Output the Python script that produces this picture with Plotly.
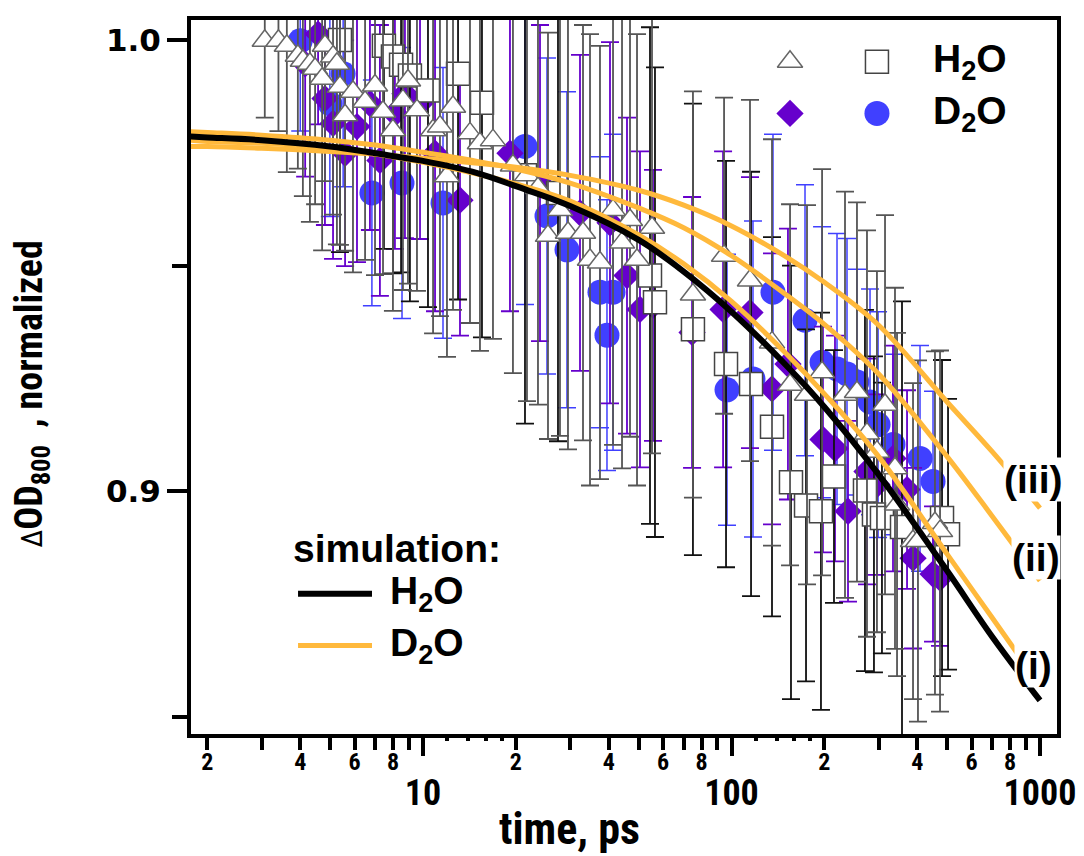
import plotly.graph_objects as go

# ---------------- data ----------------
# H2O, triangles
tri_t = [3.07, 3.40, 3.62, 3.93, 4.08, 4.30, 4.47, 4.71, 4.81, 5.11, 5.26, 5.38, 5.59, 5.93, 6.49, 6.99, 7.42, 7.99, 8.61, 8.94,
         9.56, 10.78, 11.35, 11.96, 12.51, 14.20, 15.30, 16.86, 19.57, 21.73, 23.59, 25.42, 27.80, 29.51, 33.01, 34.78, 37.47,
         41.30, 44.17, 46.88, 49.4, 55.25, 75.0, 94.6, 114.8, 135.3, 154.8, 175.7, 196.6, 233.3, 255.1, 274.9, 296.1, 314.5,
         338.8, 344.0, 387.6, 402.2, 456.6, 474.2]
tri_v = [0.9998, 0.9998, 0.9987, 0.9965, 0.9954, 0.9947, 0.9936, 0.9914, 0.9987, 0.9963, 0.9947, 0.9896, 0.9833, 0.9885,
         0.9863, 0.9899, 0.9841, 0.9800, 0.9866, 0.9910, 0.9844, 0.9800, 0.9808, 0.9698, 0.9852, 0.9793, 0.9771, 0.9778,
         0.9722, 0.9700, 0.9672, 0.9566, 0.9623, 0.9573, 0.9573, 0.9513, 0.9507, 0.9623, 0.9551, 0.9601, 0.9513, 0.9584,
         0.9436, 0.9522, 0.9467, 0.9330, 0.9236, 0.9214, 0.9264, 0.9214, 0.9220, 0.9128, 0.9088, 0.9192, 0.9051, 0.8971,
         0.8890, 0.8890, 0.8930, 0.8912]
tri_e = [0.017, 0.020, 0.028, 0.025, 0.030, 0.035, 0.030, 0.038, 0.030, 0.035,
         0.040, 0.035, 0.030, 0.040, 0.035, 0.042, 0.036, 0.040, 0.042, 0.045,
         0.040, 0.045, 0.042, 0.040, 0.045, 0.042, 0.046, 0.044, 0.046, 0.050,
         0.048, 0.045, 0.050, 0.048, 0.046, 0.050, 0.048, 0.052, 0.050, 0.048,
         0.050, 0.050, 0.045, 0.035, 0.040, 0.045, 0.040, 0.042, 0.045, 0.045,
         0.042, 0.045, 0.040, 0.042, 0.040, 0.038, 0.035, 0.040, 0.038, 0.040]

# H2O, squares
sq_t = [5.38, 7.47, 7.99, 8.49, 9.07, 10.38, 12.99, 15.53, 21.41, 27.39, 54.43, 56.49, 75.0, 96.0, 115.7, 135.3, 155.9,
        174.4, 195.0, 214.9, 270.8, 289.6, 307.4, 357.0, 481.3, 503.4]
sq_v = [1.0000, 0.9987, 0.9963, 0.9945, 0.9921, 0.9888, 0.9925, 0.9861, 0.9700, 0.9661, 0.9478, 0.9419, 0.9359, 0.9282,
        0.9238, 0.9143, 0.9020, 0.8969, 0.8956, 0.9033, 0.9002, 0.8949, 0.8941, 0.8921, 0.8941, 0.8905]
sq_e = [0.047, 0.045, 0.048, 0.046, 0.050, 0.048, 0.050, 0.052, 0.055, 0.055, 0.055, 0.052, 0.050, 0.045, 0.047, 0.042,
        0.048, 0.039, 0.044, 0.028, 0.040, 0.035, 0.030, 0.050, 0.035, 0.030]

# D2O, diamonds
dia_t = [4.15, 4.57, 4.81, 5.11, 5.59, 6.11, 6.73, 7.25, 8.11, 8.74, 9.78, 10.94, 13.18, 19.14, 23.95, 32.28, 40.38,
         45.84, 50.51, 55.66, 74.5, 93.9, 114.8, 135.3, 152.4, 197.9, 216.5, 238.6, 274.9, 296.1, 333.8, 370.7, 387.6,
         450.0, 474.2]
dia_v = [0.9947, 1.0013, 0.9870, 0.9815, 0.9749, 0.9808, 0.9859, 0.9733, 0.9837, 0.9881, 0.9859, 0.9749, 0.9645, 0.9749,
         0.9683, 0.9617, 0.9595, 0.9478, 0.9403, 0.9412, 0.9352, 0.9403, 0.9396, 0.9227, 0.9282, 0.9115, 0.9095, 0.8956,
         0.9044, 0.9015, 0.9073, 0.9004, 0.8852, 0.8817, 0.8808]
dia_e = [0.025, 0.020, 0.028, 0.030, 0.025, 0.030, 0.028, 0.030, 0.030, 0.032,
         0.030, 0.035, 0.030, 0.035, 0.035, 0.035, 0.040, 0.035, 0.035, 0.030,
         0.030, 0.035, 0.030, 0.030, 0.030, 0.025, 0.025, 0.020, 0.025, 0.020,
         0.025, 0.022, 0.020, 0.015, 0.015]

# D2O, circles
cir_t = [4.0, 4.99, 5.51, 6.83, 8.55, 11.61, 21.41, 25.23, 29.29, 37.47, 39.48, 41.30, 96.7, 117.4, 136.3, 173.1, 196.6,
         219.8, 236.8, 255.1, 281.2, 298.6, 333.8, 408.4, 450.0]
cir_v = [0.9998, 0.9859, 0.9925, 0.9661, 0.9683, 0.9639, 0.9764, 0.9610, 0.9535, 0.9441, 0.9346, 0.9441, 0.9225, 0.9249,
         0.9441, 0.9379, 0.9286, 0.9271, 0.9260, 0.9242, 0.9198, 0.9148, 0.9104, 0.9073, 0.9022]
cir_e = [0.020, 0.025, 0.025, 0.025, 0.030, 0.030, 0.035, 0.035, 0.035, 0.030, 0.030, 0.035, 0.030, 0.035, 0.035,
         0.030, 0.030, 0.030, 0.030, 0.025, 0.025, 0.025, 0.020, 0.025, 0.020]

# simulations
sim_t = [1.75, 2, 3, 5, 7, 10, 15, 20, 30, 50, 70, 100, 150, 200, 300, 500, 700, 1000]
sim_h2o = [0.9786, 0.9784, 0.9778, 0.9764, 0.9749, 0.9732, 0.9705, 0.9676, 0.9632, 0.9557, 0.9487, 0.9398, 0.9280,
           0.9187, 0.9037, 0.8824, 0.8678, 0.8537]
sim_d2o_i = [0.9778, 0.9775, 0.9771, 0.9760, 0.9747, 0.9729, 0.9703, 0.9681, 0.9643, 0.9568, 0.9504, 0.9421, 0.9306,
             0.9216, 0.9077, 0.8861, 0.8720, 0.8570]
sim_d2o_ii = [0.9797, 0.9795, 0.9789, 0.9778, 0.9767, 0.9751, 0.9731, 0.9714, 0.9683, 0.9628, 0.9584, 0.9522, 0.9436,
              0.9370, 0.9260, 0.9077, 0.8945, 0.8802]
sim_d2o_iii = [0.9764, 0.9764, 0.9760, 0.9753, 0.9747, 0.9738, 0.9727, 0.9718, 0.9700, 0.9667, 0.9634, 0.9588, 0.9520,
               0.9463, 0.9368, 0.9198, 0.9088, 0.8963]

# ticks
x_major = [10, 100, 1000]
x_major_text = ["10", "100", "1000"]
x_label = [2, 4, 6, 8, 20, 40, 60, 80, 200, 400, 600, 800]
x_label_text = ["2", "4", "6", "8", "2", "4", "6", "8", "2", "4", "6", "8"]
x_odd = [3, 5, 7, 9, 30, 50, 70, 90, 300, 500, 700, 900]
x_sub = [12, 14, 16, 18, 120, 140, 160, 180]
y_major = [0.9, 1.0]
y_major_text = ["0.9", "1.0"]
y_minor = [0.85, 0.95]

# ---------------- styles ----------------
PURPLE = "#6600CC"
BLUE = "#4040FF"
ORANGE = "#FFB93C"
NARROW = "Liberation Sans Narrow, Roboto Condensed, Liberation Sans, Arial"
SANS = "Liberation Sans, Arial, sans-serif"

fig = go.Figure()

def err(arr, color, th=1.8):
    return dict(type="data", array=arr, symmetric=True, color=color, thickness=th, width=9)

fig.add_trace(go.Scatter(x=cir_t, y=cir_v, mode="markers", error_y=err(cir_e, BLUE, 1.5),
                         marker=dict(symbol="circle", size=25, color=BLUE, line=dict(width=0))))
fig.add_trace(go.Scatter(x=dia_t, y=dia_v, mode="markers", error_y=err(dia_e, PURPLE, 1.8),
                         marker=dict(symbol="diamond", size=21, color=PURPLE, line=dict(width=0))))
fig.add_trace(go.Scatter(x=sq_t, y=sq_v, mode="markers", error_y=err(sq_e, "#111111", 1.8),
                         marker=dict(symbol="square", size=23, color="white", line=dict(width=1.5, color="#444444"))))
fig.add_trace(go.Scatter(x=tri_t, y=tri_v, mode="markers", error_y=err(tri_e, "#555555", 1.8),
                         marker=dict(symbol="triangle-up", size=22, color="white", line=dict(width=1.5, color="#666666"))))

for ys in (sim_d2o_iii, sim_d2o_ii, sim_d2o_i):
    fig.add_trace(go.Scatter(x=sim_t, y=ys, mode="lines", line=dict(color=ORANGE, width=5, shape="spline")))
fig.add_trace(go.Scatter(x=sim_t, y=sim_h2o, mode="lines", line=dict(color="black", width=6, shape="spline")))

# invisible trace so the overlaid decade-tick axis is drawn
fig.add_trace(go.Scatter(x=sim_t, y=sim_h2o, xaxis="x2", yaxis="y", mode="lines",
                         line=dict(width=0, color="rgba(0,0,0,0)"), hoverinfo="skip"))

# legend markers (top right) on a hidden overlay axis pair in [0,1]
leg_x = [0.6917, 0.7921, 0.6917, 0.7921]
leg_y = [0.9415, 0.9415, 0.8691, 0.8691]
fig.add_trace(go.Scatter(x=[leg_x[0]], y=[leg_y[0]], xaxis="x3", yaxis="y3", mode="markers",
                         marker=dict(symbol="triangle-up", size=22, color="white", line=dict(width=1.5, color="#666666"))))
fig.add_trace(go.Scatter(x=[leg_x[1]], y=[leg_y[1]], xaxis="x3", yaxis="y3", mode="markers",
                         marker=dict(symbol="square", size=23, color="white", line=dict(width=1.5, color="#444444"))))
fig.add_trace(go.Scatter(x=[leg_x[2]], y=[leg_y[2]], xaxis="x3", yaxis="y3", mode="markers",
                         marker=dict(symbol="diamond", size=21, color=PURPLE)))
fig.add_trace(go.Scatter(x=[leg_x[3]], y=[leg_y[3]], xaxis="x3", yaxis="y3", mode="markers",
                         marker=dict(symbol="circle", size=25, color=BLUE)))

xr = [0.2480, 3.0551]
yr = [0.84626, 1.00441]

fig.update_layout(
    width=1076, height=848,
    margin=dict(l=183, r=27, t=8, b=122),
    paper_bgcolor="white", plot_bgcolor="white",
    showlegend=False,
    xaxis=dict(type="log", range=xr, showgrid=False, zeroline=False,
               showline=True, linewidth=4, linecolor="black", mirror=True,
               tickmode="array", tickvals=x_label, ticktext=x_label_text,
               ticks="outside", ticklen=12, tickwidth=4, tickcolor="black", ticklabelstandoff=-9,
               tickfont=dict(family=NARROW, size=24, color="black", weight="bold"),
               minor=dict(tickmode="array", tickvals=x_odd, ticks="outside", ticklen=12, tickwidth=4,
                          tickcolor="black", showgrid=False)),
    xaxis2=dict(type="log", range=xr, overlaying="x", anchor="y", side="bottom",
                showgrid=False, zeroline=False, showline=False,
                tickmode="array", tickvals=x_major, ticktext=x_major_text,
                ticks="outside", ticklen=21, tickwidth=4, tickcolor="black", ticklabelstandoff=6,
                tickfont=dict(family=NARROW, size=36, color="black", weight="bold"),
                minor=dict(tickmode="array", tickvals=x_sub, ticks="outside", ticklen=6, tickwidth=4,
                           tickcolor="black", showgrid=False)),
    yaxis=dict(range=yr, showgrid=False, zeroline=False,
               showline=True, linewidth=4, linecolor="black", mirror=True,
               tickmode="array", tickvals=y_major, ticktext=y_major_text,
               ticks="outside", ticklen=20, tickwidth=4, tickcolor="black",
               tickfont=dict(family="DejaVu Sans", size=31, color="black", weight="bold"),
               minor=dict(tickmode="array", tickvals=y_minor, ticks="outside", ticklen=15, tickwidth=4,
                          tickcolor="black", showgrid=False)),
    xaxis3=dict(range=[0, 1], overlaying="x", anchor="y3", visible=False, fixedrange=True),
    yaxis3=dict(range=[0, 1], overlaying="y", anchor="x3", visible=False, fixedrange=True),
)

big = dict(family=SANS, size=39, color="black", weight="bold")
ann = [
    dict(x=0.8540, y=0.9415, text="H<sub>2</sub>O", xanchor="left", yanchor="middle", font=big),
    dict(x=0.8540, y=0.8691, text="D<sub>2</sub>O", xanchor="left", yanchor="middle", font=big),
    dict(x=0.1150, y=0.2600, text="simulation:", xanchor="left", yanchor="middle", font=big),
    dict(x=0.2270, y=0.1964, text="H<sub>2</sub>O", xanchor="left", yanchor="middle", font=big),
    dict(x=0.2270, y=0.1240, text="D<sub>2</sub>O", xanchor="left", yanchor="middle", font=big),
    dict(x=0.9723, y=0.3565, text="(iii)", xanchor="center", yanchor="middle", font=big, bgcolor="white", borderpad=0),
    dict(x=0.9757, y=0.2465, text="(ii)", xanchor="center", yanchor="middle", font=big, bgcolor="white", borderpad=0),
    dict(x=0.9734, y=0.0961, text="(i)", xanchor="center", yanchor="middle", font=big, bgcolor="white", borderpad=0),
    dict(x=0.4376, y=-0.1337, text="time, ps", xanchor="center", yanchor="middle",
         font=dict(family=NARROW, size=44, color="black", weight="bold")),
    dict(x=-0.1840, y=0.4763,
         text="<span style='font-size:29px;font-weight:normal'>Δ</span>OD<sub>800</sub>  , normalized",
         textangle=-90, xanchor="center", yanchor="middle",
         font=dict(family=NARROW, size=38, color="black", weight="bold")),
]
for a in ann:
    a.update(xref="paper", yref="paper", showarrow=False)
fig.update_layout(annotations=ann)

fig.add_shape(type="line", xref="paper", yref="paper", x0=0.1236, x1=0.2090, y0=0.1964, y1=0.1964,
              line=dict(color="black", width=6))
fig.add_shape(type="line", xref="paper", yref="paper", x0=0.1236, x1=0.2090, y0=0.1240, y1=0.1240,
              line=dict(color=ORANGE, width=5))

fig.write_html("out.html")
